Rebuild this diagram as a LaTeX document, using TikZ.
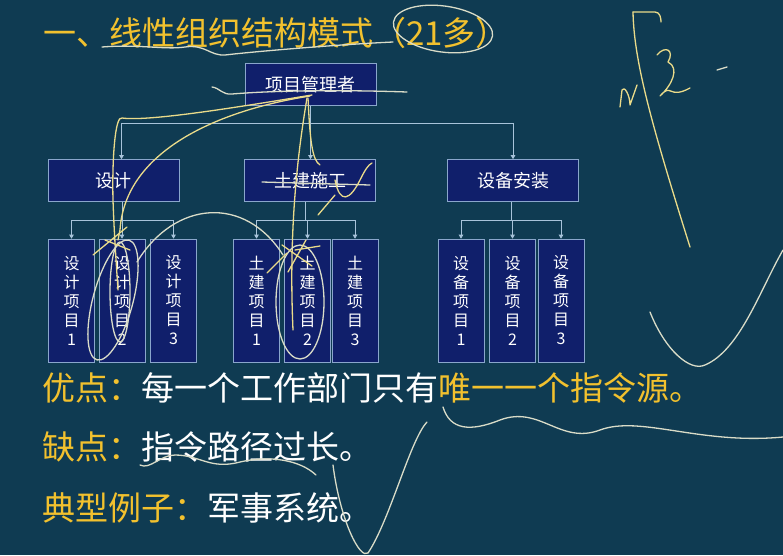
\documentclass[tikz,border=0pt]{standalone}
\usepackage{fontspec}
\setmainfont{Noto Sans CJK SC}
\usetikzlibrary{arrows.meta}

\begin{document}
\begin{tikzpicture}[x=1pt,y=-1pt,
  box/.style={draw=boxline,fill=boxfill,text=white,line width=0.6pt,inner sep=0pt},
  wbox/.style={box,minimum width=131pt,minimum height=42pt,font=\fontsize{18}{21}\selectfont},
  tbox/.style={box,minimum width=46pt,minimum height=123pt,align=center,font=\fontsize{16}{19}\selectfont},
  link/.style={draw=linkc,line width=0.8pt},
  tolink/.style={link,-{Triangle[length=4pt,width=4.5pt]}},
  bigtext/.style={anchor=west,inner sep=0pt,font=\fontsize{33}{38}\selectfont},
  scribble/.style={draw=penc,line width=1.3pt,line cap=round,line join=round}]
\definecolor{slate}{HTML}{0F3B52}
\definecolor{boxfill}{HTML}{101F6B}
\definecolor{boxline}{HTML}{8AA6CC}
\definecolor{linkc}{HTML}{A8C3DA}
\definecolor{gold}{HTML}{F2C12E}
\definecolor{penc}{HTML}{EADB8A}
\definecolor{penw}{HTML}{D9DCC8}
\fill[slate] (0,0) rectangle (783,555);
\useasboundingbox (0,0) rectangle (783,555);

% title and notes
\node[bigtext,text=gold] (title) at (43,33) {一、线性组织结构模式（21多）};
\node[bigtext,text=white] (good) at (42,388) {\textcolor{gold}{优点：}每一个工作部门只有\textcolor{gold}{唯一一个指令源。}};
\node[bigtext,text=white] (bad) at (42,447) {\textcolor{gold}{缺点：}指令路径过长。};
\node[bigtext,text=white] (eg) at (42,508) {\textcolor{gold}{典型例子：}军事系统。};

% boxes
\node[wbox] (pm) at (310.5,84.5) {项目管理者};
\node[wbox] (sj) at (113.5,180.5) {设计};
\node[wbox] (tj) at (310,180.5) {土建施工};
\node[wbox] (sb) at (513,180.5) {设备安装};
\foreach \nm/\cx in {sj1/71.5,sj2/122,sj3/173.5,tj1/256.5,tj2/307.5,tj3/355,sb1/461,sb2/512.5,sb3/561}
{ \node[tbox] (\nm) at (\cx,300.5) {};}
\foreach \nm/\a/\b/\n in {sj1/设/计/1,sj2/设/计/2,sj3/设/计/3,
  tj1/土/建/1,tj2/土/建/2,tj3/土/建/3,sb1/设/备/1,sb2/设/备/2,sb3/设/备/3}
{ \node[align=center,text=white,font=\fontsize{16}{19}\selectfont] at (\nm) {\a\\\b\\项\\目\\\n};}

% connectors
\coordinate (pmbar) at (310.5,123);
\draw[link] (pm.south) -- (pmbar);
\draw[tolink] (pmbar) -| ([xshift=8pt]sj.north);
\draw[tolink] (pmbar) -- (pmbar |- tj.north);
\draw[tolink] (pmbar) -| (sb.north);
\foreach \up/\x/\l/\m/\r in {sj/122/sj1/sj2/sj3,tj/305/tj1/tj2/tj3,sb/511/sb1/sb2/sb3}
{ \coordinate (\up bar) at (\x,220);
  \draw[link] (\up.south -| \up bar) -- (\up bar);
  \draw[tolink] (\up bar) -| (\l.north);
  \draw[tolink] (\up bar) -| (\m.north);
  \draw[tolink] (\up bar) -| (\r.north);}

% pen marks
\draw[scribble,draw=penw] (102,47) .. controls (140,44) and (165,50) .. (185,47) .. controls (205,44) and (210,56) .. (225,55) .. controls (250,52) and (330,45) .. (393,42);
\draw[scribble,draw=penw,rotate around={-8:(443,29)}] (443,29) ellipse [x radius=50,y radius=23];
\draw[scribble,draw=penw] (212,87) .. controls (220,88) and (222,95) .. (232,94) .. controls (280,90) and (350,90) .. (407,92);
\draw[scribble] (312,95) .. controls (250,105) and (150,122) .. (122,118) .. controls (115,115) and (112,160) .. (113,200) .. controls (114,230) and (116,260) .. (118,290);
\draw[scribble] (310,96) .. controls (220,110) and (125,150) .. (120,230) -- (118,240);
\draw[scribble] (307,98) .. controls (300,140) and (288,220) .. (293,330);
\draw[scribble] (308,98) .. controls (310,140) and (312,160) .. (320,165);
\draw[scribble,draw=penw] (262,182) -- (370,185);
\draw[scribble] (335,180) .. controls (340,205) and (350,200) .. (360,180) .. controls (365,170) and (368,165) .. (372,163);
\draw[scribble] (335,195) -- (318,215);
\draw[scribble,draw=penw,rotate around={-15:(113,300)}] (113,300) ellipse [x radius=20,y radius=62];
\draw[scribble,draw=penw] (120,292) ellipse [x radius=10,y radius=50];
\draw[scribble,draw=penw] (300,302) ellipse [x radius=24,y radius=57];
\draw[scribble,draw=penw] (137,262) .. controls (175,200) and (245,195) .. (283,255);
\draw[scribble] (93,255) -- (127,227) (105,240) -- (130,250) (267,273) -- (287,253) (282,245) -- (312,266) (288,272) -- (306,240) (295,250) -- (320,246);
\draw[scribble,draw=penw] (443,407) .. controls (450,430) and (470,432) .. (500,420) .. controls (540,405) and (560,445) .. (600,430) .. controls (640,415) and (700,445) .. (783,437);
\draw[scribble,draw=penw] (140,465) .. controls (150,470) and (160,455) .. (175,455) .. controls (200,455) and (210,470) .. (240,462) .. controls (270,455) and (300,460) .. (316,475);
\draw[scribble,draw=penw] (333,465) .. controls (340,520) and (360,560) .. (368,553) .. controls (390,520) and (410,440) .. (427,422);
\draw[scribble] (633,12) -- (655,12) .. controls (660,12) and (661,18) .. (661,22);
\draw[scribble] (633,12) .. controls (634,60) and (650,120) .. (690,247);
\draw[scribble] (620,107) -- (622,90) .. controls (624,85) and (630,95) .. (630,105) -- (637,85);
\draw[scribble] (657,55) .. controls (665,45) and (675,50) .. (668,62) .. controls (680,68) and (672,85) .. (660,96) .. controls (672,82) and (668,100) .. (690,88);
\draw[scribble,draw=penw] (717,70) -- (727,67);
\draw[scribble,draw=penw] (650,312) .. controls (665,350) and (690,372) .. (705,365) .. controls (740,350) and (760,290) .. (783,250);
\end{tikzpicture}
\end{document}
